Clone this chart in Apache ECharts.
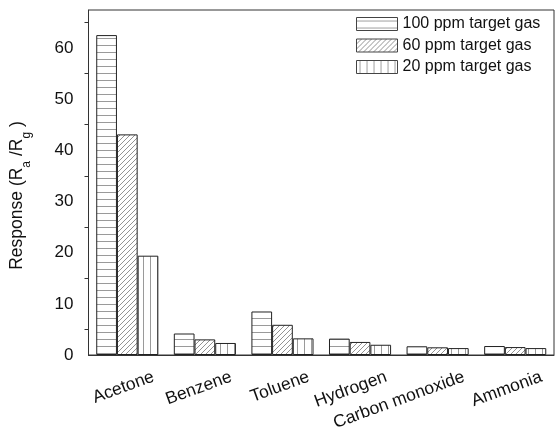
<!DOCTYPE html>
<html>
<head>
<meta charset="utf-8">
<script src="https://cdn.jsdelivr.net/npm/echarts@6/dist/echarts.min.js"></script>
<style>
  html, body { margin: 0; padding: 0; background: #fff; }
  #chart { width: 555px; height: 440px; }
</style>
</head>
<body>
<div id="chart"></div>
<script>
// gases tested
const gases = ['Acetone', 'Benzene', 'Toluene', 'Hydrogen', 'Carbon monoxide', 'Ammonia'];
const seriesNames = ['100 ppm target gas', '60 ppm target gas', '20 ppm target gas'];
// response Ra/Rg
const ppm100 = [62.5, 4.2, 8.5, 3.2, 1.7, 1.75];
const ppm60 = [43.1, 3.05, 5.9, 2.55, 1.5, 1.55];
const ppm20 = [19.4, 2.35, 3.25, 2.0, 1.35, 1.35];
const yMajor = [0, 10, 20, 30, 40, 50, 60];
const yMinor = [5, 15, 25, 35, 45, 55, 65];

const font = '"Liberation Sans", Arial, sans-serif';

// hatch patterns like the origin plot
function makePattern(kind) {
  const c = document.createElement('canvas');
  const size = kind === 'd' ? 5 : 7;
  c.width = size; c.height = size;
  const ctx = c.getContext('2d');
  ctx.fillStyle = '#fff';
  ctx.fillRect(0, 0, size, size);
  if (kind === 'h') {
    ctx.fillStyle = '#9a9a9a';
    ctx.fillRect(0, 3, size, 1);
  } else if (kind === 'v') {
    ctx.fillStyle = '#9a9a9a';
    ctx.fillRect(3, 0, 1, size);
  } else {
    ctx.strokeStyle = '#777';
    ctx.lineWidth = 0.8;
    for (const k of [-size, 0, size]) {
      ctx.beginPath();
      ctx.moveTo(k, size);
      ctx.lineTo(k + size, 0);
      ctx.stroke();
    }
  }
  return { image: c, repeat: 'repeat' };
}

const patterns = [makePattern('h'), makePattern('d'), makePattern('v')];
const allData = [ppm100, ppm60, ppm20];

const myChart = echarts.init(document.getElementById('chart'));

const option = {
  animation: false,
  textStyle: { fontFamily: font, color: '#111' },
  grid: {
    left: 87, right: 1, top: 10, bottom: 85,
    show: true, borderColor: '#333', borderWidth: 1
  },
  legend: {
    orient: 'vertical',
    left: 356, top: 16,
    padding: 0,
    itemWidth: 41, itemHeight: 13, itemGap: 5.5,
    icon: 'rect',
    itemStyle: { borderColor: '#444', borderWidth: 1 },
    textStyle: { fontSize: 16, color: '#111', fontFamily: font },
    data: seriesNames
  },
  xAxis: [
    {
      type: 'category',
      data: gases,
      axisLine: { lineStyle: { color: '#333', width: 1 } },
      axisTick: { alignWithLabel: true, length: 7, lineStyle: { color: '#333' } },
      axisLabel: {
        interval: 0,
        rotate: 20,
        fontSize: 17.5,
        color: '#111',
        fontFamily: font,
        margin: 31,
        align: 'right',
        verticalAlign: 'middle',
        padding: [0, -28, 0, 0]
      }
    },
    {
      // short ticks between the groups
      type: 'category',
      data: gases,
      position: 'bottom',
      axisLine: { show: false },
      axisTick: { length: 4, lineStyle: { color: '#333' } },
      axisLabel: { show: false }
    }
  ],
  yAxis: [
    {
      type: 'value',
      min: 0,
      max: 67.4,
      name: '{t|Response (R}{s|a}{t| /R}{s|g}{t| )}',
      nameLocation: 'middle',
      nameGap: 56,
      nameTextStyle: {
        padding: [0, 26, 0, 0],
        rich: {
          t: { fontSize: 17.5, color: '#111', fontFamily: font, lineHeight: 24, verticalAlign: 'middle' },
          s: { fontSize: 12, color: '#111', fontFamily: font, lineHeight: 31, verticalAlign: 'bottom' }
        }
      },
      splitLine: { show: false },
      axisLine: { show: true, lineStyle: { color: '#333', width: 1 } },
      axisTick: { length: 7, customValues: yMajor, lineStyle: { color: '#333' } },
      axisLabel: { customValues: yMajor, fontSize: 17, color: '#111', fontFamily: font, margin: 15 }
    },
    {
      // minor ticks every 5
      type: 'value',
      min: 0,
      max: 67.4,
      position: 'left',
      splitLine: { show: false },
      axisLine: { show: false },
      axisTick: { show: true, length: 4, customValues: yMinor, lineStyle: { color: '#333' } },
      axisLabel: { show: false }
    }
  ],
  series: seriesNames.map((name, i) => ({
    name: name,
    type: 'bar',
    xAxisIndex: 0,
    yAxisIndex: 0,
    barWidth: 20.7,
    barGap: '0%',
    data: allData[i],
    itemStyle: {
      color: patterns[i],
      borderColor: '#222',
      borderWidth: 1
    }
  }))
};

myChart.setOption(option);
</script>
</body>
</html>
